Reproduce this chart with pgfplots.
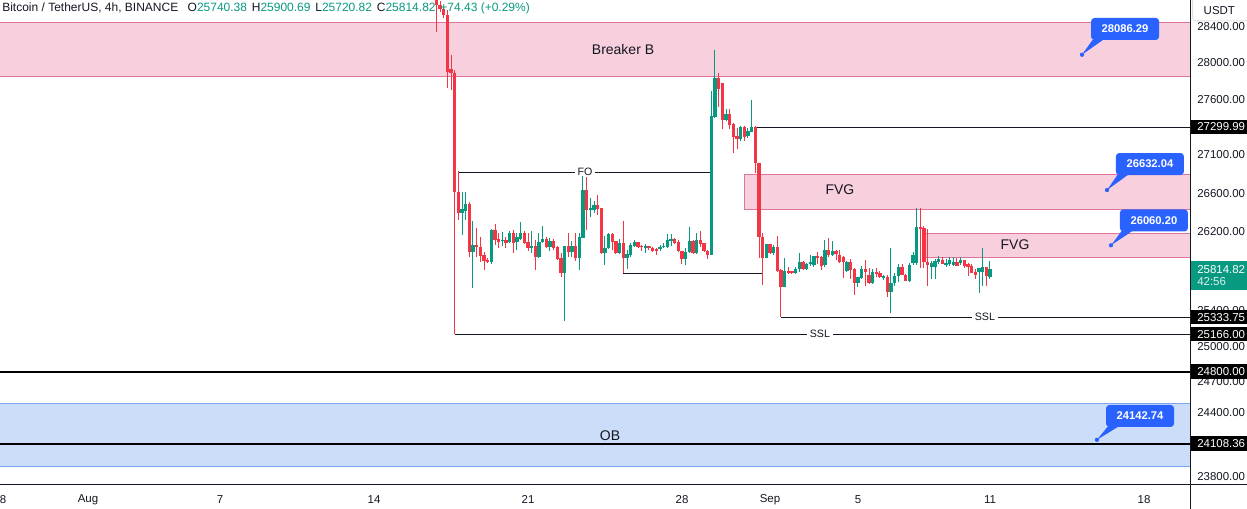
\documentclass[border=0pt]{standalone}
\usepackage{fontspec}
\setmainfont{Liberation Sans}
\usepackage{xfp}
\usepackage{pgfplots}
\pgfplotsset{compat=1.18}
\usepackage{pgfplotstable}
\definecolor{cup}{HTML}{089981}
\definecolor{cdn}{HTML}{F23645}
\definecolor{pinkf}{HTML}{F8CFDD}
\definecolor{pinkd}{HTML}{E0739F}
\definecolor{bluef}{HTML}{CCDDFA}
\definecolor{blued}{HTML}{7BA7F0}
\definecolor{callc}{HTML}{2962FF}
\definecolor{txt}{HTML}{131722}
\newcommand{\tfont}{\fontsize{8.6pt}{10pt}\selectfont}
\newcommand{\lp}[1]{\fpeval{ln(#1)}}

% n = 4h candle index from Aug 1 00:00 ; x = n/6 days ; prices in USDT
\pgfplotstableread{
n o h l c
102 26393 26612 26166 26435
103 26414 26612 26321 26487
105 25993 26310 25628 26064
110 25890 26228 25870 26217
113 26105 26197 26053 26115
115 26095 26207 26084 26187
117 26095 26187 26013 26146
118 26125 26300 26115 26187
121 26033 26207 25982 26053
123 25941 26187 25931 26095
124 26095 26259 26084 26125
126 26044 26136 26003 26105
130 25779 26053 25297 26053
132 25993 26105 25941 26053
134 25931 26187 25809 26146
135 26136 26823 26136 26633
137 26425 26549 26352 26445
138 26425 26518 26393 26476
141 25982 26156 25860 26033
142 26033 26187 26023 26176
145 25982 26125 25972 26084
147 25931 26013 25819 25972
148 25962 26084 25941 26064
149 26054 26115 26044 26094
152 26033 26074 25982 26053
156 26023 26064 26003 26044
157 26044 26084 26033 26053
158 26044 26176 26033 26115
159 26105 26176 26053 26125
163 25921 26033 25860 25993
164 25993 26248 25982 26105
166 25982 26187 25972 26115
170 25962 27691 25962 27419
171 27409 28140 27398 27832
174 27376 27495 27365 27441
178 27173 27311 27150 27300
180 27205 27289 27183 27258
181 27248 27593 27248 27300
185 25931 26074 25931 26074
187 25982 26064 25962 26044
190 25638 25931 25638 25799
193 25779 25839 25769 25819
194 25819 25982 25789 25890
196 25819 25880 25809 25870
197 25870 25962 25850 25890
198 25860 25952 25839 25952
201 25860 26115 25839 26013
203 25962 26105 25952 26003
207 25799 25901 25789 25890
210 25678 25739 25638 25739
211 25728 25850 25718 25819
214 25678 25819 25668 25789
217 25728 25759 25708 25749
219 25588 26033 25377 25678
220 25678 25779 25648 25749
221 25749 25870 25688 25839
224 25698 25880 25688 25860
225 25880 25993 25860 25962
226 25880 26445 25860 26248
230 25839 25901 25718 25880
231 25839 25921 25718 25901
232 25890 25952 25870 25921
234 25860 25921 25839 25880
235 25870 25941 25850 25911
236 25860 25941 25850 25890
238 25880 25941 25860 25911
243 25789 25829 25578 25829
244 25789 26033 25648 25839
246 25740.38 25900.69 25720.82 25814.82
}\up

\pgfplotstableread{
n o h l c
95 28720 28760 28341 28640
96 28640 28690 28560 28600
97 28600 28620 28490 28530
98 28530 28586 27720 27897
99 27930 28085 27700 27886
100 27886 27919 25166 26612
101 26612 26834 26321 26393
104 26487 26507 25941 25993
106 26064 26238 25941 26044
107 26044 26146 25890 25952
108 25962 25993 25809 25901
109 25911 25930 25880 25890
111 26217 26279 26064 26115
112 26125 26187 26033 26095
114 26115 26146 26033 26084
116 26187 26217 25982 26084
119 26187 26207 26074 26084
120 26095 26187 26003 26033
122 26053 26115 25809 25941
125 26125 26146 26033 26044
127 26105 26125 26013 26033
128 26044 26053 25911 25921
129 25931 25982 25739 25779
131 26053 26187 25941 25993
133 26053 26187 25901 25931
136 26633 26770 26217 26425
139 26476 26580 26373 26435
140 26445 26450 25972 25982
143 26176 26187 26013 26095
144 26105 26105 25972 25982
146 26084 26310 25779 25931
150 26094 26095 26033 26044
151 26053 26064 26003 26044
153 26053 26053 26013 26033
154 26033 26044 25993 26003
155 26023 26033 25962 26003
160 26125 26136 26074 26084
161 26095 26115 25993 26003
162 26003 26003 25870 25921
165 26105 26115 25972 25982
167 26115 26207 26044 26074
168 26084 26084 25993 26003
169 26003 26013 25921 25962
172 27832 27886 27517 27713
173 27778 27778 27279 27376
175 27441 27495 27279 27322
176 27333 27343 27025 27194
177 27205 27289 27066 27173
179 27300 27311 27150 27194
182 27300 27311 26813 26919
183 26919 26919 25931 26146
184 26146 26187 25658 25931
186 26074 26074 25972 25982
188 26044 26156 25789 25799
189 25809 25819 25334 25638
191 25799 25839 25769 25779
192 25799 25799 25769 25779
195 25890 25901 25809 25819
199 25952 25993 25870 25931
200 25941 25952 25809 25850
202 26013 26136 25941 25962
204 26003 26013 25911 25972
205 25962 26013 25880 25890
206 25945 25952 25728 25895
208 25890 25921 25718 25809
209 25819 25829 25558 25678
212 25819 25911 25648 25789
213 25759 25829 25668 25678
215 25789 25829 25739 25769
216 25779 25799 25728 25739
218 25739 25759 25538 25588
222 25839 25870 25759 25759
223 25759 25769 25698 25698
227 26248 26445 25829 26228
228 26238 26259 25829 25890
229 25890 26228 25648 25860
233 25911 25941 25870 25870
237 25890 25931 25850 25850
239 25911 25911 25829 25850
240 25870 25880 25749 25839
241 25850 25870 25779 25779
242 25789 25819 25718 25759
245 25839 25839 25648 25749
}\dn

\begin{document}
\begin{tikzpicture}[x=1pt,y=1pt]
% price scale is logarithmic: y = ln(price)
\begin{axis}[
  at={(0,0)}, anchor=south west,
  scale only axis, width=892.5pt, height=363.75pt,
  xmin=-4, xmax=50.0909,
  ymin=10.0739896, ymax=10.2645474,
  axis line style={draw=none},
  tick style={draw=none},
  xtick={-4,0,6,13,20,27,31,35,41,48},
  xticklabels={28,Aug,7,14,21,28,Sep,5,11,18},
  ytick={10.0774409,10.1023385,10.1145587,10.1282298,10.1425044,10.1581297,10.1735148,10.1886665,10.2036292,10.2255711,10.2399598,10.2541444},
  yticklabels={23800.00,24400.00,24700.00,25000.00,25400.00,25800.00,26200.00,26600.00,27100.00,27600.00,28000.00,28400.00},
  yticklabel pos=right,
  ticklabel style={font=\tfont, text=txt},
  yticklabel style={anchor=west, inner sep=0pt, xshift=5.25pt},
  xticklabel style={anchor=center, inner sep=0pt, yshift=-10.8pt},
  scaled y ticks=false,
]
% zones
\addplot[fill=pinkf, draw=pinkd, line width=0.75pt] table[row sep=\\, y expr=ln(\thisrow{p})] {x p\\ -5 27852\\ 52 27852\\ 52 28450\\ -5 28450\\ -5 27852\\};
\addplot[fill=pinkf, draw=pinkd, line width=0.75pt] table[row sep=\\, y expr=ln(\thisrow{p})] {x p\\ 29.833 26435\\ 52 26435\\ 52 26801\\ 29.833 26801\\ 29.833 26435\\};
\addplot[fill=pinkf, draw=pinkd, line width=0.75pt] table[row sep=\\, y expr=ln(\thisrow{p})] {x p\\ 38 25941\\ 52 25941\\ 52 26187\\ 38 26187\\ 38 25941\\};
\addplot[fill=bluef, draw=blued, line width=0.75pt] table[row sep=\\, y expr=ln(\thisrow{p})] {x p\\ -5 23896\\ 52 23896\\ 52 24495\\ -5 24495\\ -5 23896\\};
% levels
\addplot[txt, line width=0.75pt] table[row sep=\\, y expr=ln(\thisrow{p})] {x p\\ 16.833 26822\\ 28.333 26822\\};
\addplot[txt, line width=0.75pt] table[row sep=\\, y expr=ln(\thisrow{p})] {x p\\ 24.333 25778\\ 30.667 25778\\};
\addplot[txt, line width=0.75pt] table[row sep=\\, y expr=ln(\thisrow{p})] {x p\\ 30.333 27299.99\\ 52 27299.99\\};
\addplot[txt, line width=0.75pt] table[row sep=\\, y expr=ln(\thisrow{p})] {x p\\ 31.5 25333.75\\ 52 25333.75\\};
\addplot[txt, line width=0.75pt] table[row sep=\\, y expr=ln(\thisrow{p})] {x p\\ 16.667 25166\\ 52 25166\\};
\addplot[black, line width=1.5pt] table[row sep=\\, y expr=ln(\thisrow{p})] {x p\\ -5 24800\\ 52 24800\\};
\addplot[black, line width=1.5pt] table[row sep=\\, y expr=ln(\thisrow{p})] {x p\\ -5 24108.36\\ 52 24108.36\\};
% candles: wicks
\addplot[draw=none, mark=none, error bars/.cd, y dir=minus, y explicit, error mark=none,
  error bar style={draw=cup, line width=0.75pt}]
  table[x expr=\thisrow{n}/6, y expr=ln(\thisrow{h}), y error minus expr={ln(\thisrow{h})-ln(\thisrow{l})}] {\up};
\addplot[draw=none, mark=none, error bars/.cd, y dir=minus, y explicit, error mark=none,
  error bar style={draw=cdn, line width=0.75pt}]
  table[x expr=\thisrow{n}/6, y expr=ln(\thisrow{h}), y error minus expr={ln(\thisrow{h})-ln(\thisrow{l})}] {\dn};
% candles: bodies
\addplot[draw=none, mark=none, error bars/.cd, y dir=minus, y explicit, error mark=none,
  error bar style={draw=cup, line width=2.3pt}]
  table[x expr=\thisrow{n}/6, y expr=ln(\thisrow{c}), y error minus expr={max(ln(\thisrow{c})-ln(\thisrow{o}),0.0003)}] {\up};
\addplot[draw=none, mark=none, error bars/.cd, y dir=minus, y explicit, error mark=none,
  error bar style={draw=cdn, line width=2.3pt}]
  table[x expr=\thisrow{n}/6, y expr=ln(\thisrow{o}), y error minus expr={max(ln(\thisrow{o})-ln(\thisrow{c}),0.0003)}] {\dn};
% anchors for texts
\coordinate (BB) at (axis cs:24.32,\lp{28149});
\coordinate (F1) at (axis cs:34.18,\lp{26640});
\coordinate (F2) at (axis cs:42.14,\lp{26064});
\coordinate (OB) at (axis cs:23.73,\lp{24179});
\coordinate (FO) at (axis cs:22.59,\lp{26822});
\coordinate (S1) at (axis cs:40.77,\lp{25333.75});
\coordinate (S2) at (axis cs:33.27,\lp{25166});
\coordinate (C1) at (axis cs:47.14,\lp{28372});
\coordinate (C2) at (axis cs:48.27,\lp{26906});
\coordinate (C3) at (axis cs:48.45,\lp{26316});
\coordinate (C4) at (axis cs:47.82,\lp{24370});
\coordinate (D1) at (axis cs:45.18,\lp{28086.29});
\coordinate (D2) at (axis cs:46.32,\lp{26632.04});
\coordinate (D3) at (axis cs:46.5,\lp{26060.2});
\coordinate (D4) at (axis cs:45.86,\lp{24142.74});
\coordinate (P1) at (axis cs:50.0909,\lp{27299.99});
\coordinate (P2) at (axis cs:50.0909,\lp{25814.82});
\coordinate (P3) at (axis cs:50.0909,\lp{25333.75});
\coordinate (P4) at (axis cs:50.0909,\lp{25166});
\coordinate (P5) at (axis cs:50.0909,\lp{24800});
\coordinate (P6) at (axis cs:50.0909,\lp{24108.36});
\end{axis}
% ---------- annotation texts
\begin{scope}[every node/.style={font=\fontsize{10.5pt}{12pt}\selectfont, text=txt}]
\node at (BB) {Breaker B};
\node at (F1) {FVG};
\node at (F2) {FVG};
\node at (OB) {OB};
\end{scope}
\begin{scope}[every node/.style={font=\fontsize{8pt}{9pt}\selectfont, text=txt, fill=white, inner xsep=2pt, inner ysep=0.5pt}]
\node at (FO) {FO};
\node at (S1) {SSL};
\node at (S2) {SSL};
\end{scope}
% callouts
\begin{scope}[every node/.style={fill=callc, text=white, rounded corners=2.5pt, minimum width=51pt, minimum height=16.5pt, inner sep=0pt, font=\bfseries\fontsize{8.4pt}{10pt}\selectfont}]
\node (c1) at (C1) {28086.29};
\node (c2) at (C2) {26632.04};
\node (c3) at (C3) {26060.20};
\node (c4) at (C4) {24142.74};
\end{scope}
\foreach \c/\d in {c1/D1,c2/D2,c3/D3,c4/D4}{
  \fill[callc] (\d) -- ([xshift=1.5pt,yshift=0.5pt]\c.south west) -- ([xshift=9.5pt,yshift=0.5pt]\c.south west) -- cycle;
  \fill[callc] (\d) circle (1.6pt);
}
% price labels on the scale
\foreach \p/\t in {P1/27299.99,P3/25333.75,P4/25166.00,P5/24800.00,P6/24108.36}{
  \fill[black] ([yshift=-5.4pt]\p) rectangle ([xshift=43pt,yshift=5.4pt]\p);
  \node[anchor=west, text=white, font=\tfont, inner sep=0pt] at ([xshift=5.25pt]\p) {\t};
}
\fill[cup] ([yshift=6.4pt]P2) rectangle ([xshift=43pt,yshift=-15.8pt]P2);
\node[anchor=west, text=white, font=\tfont, inner sep=0pt] at ([xshift=5.25pt]P2) {25814.82};
\node[anchor=west, text=white!85!cup, font=\tfont, inner sep=0pt] at ([xshift=5.25pt,yshift=-9.4pt]P2) {42:56};
% USDT box
\draw[draw=black!12, fill=white, rounded corners=2.5pt, line width=0.75pt] (894.5pt,348pt) rectangle (940pt,370pt);
\node[font=\tfont, text=txt] at (914.5pt,356.2pt) {USDT};
% frame lines
\draw[txt, line width=0.75pt] (0,0) -- (935.25pt,0);
\draw[txt, line width=0.75pt] (892.5pt,-18pt) -- (892.5pt,363.75pt);
% header
\node[anchor=west, inner sep=0pt, font=\fontsize{9pt}{10pt}\selectfont, text=txt] at (1.5pt,357.4pt)
 {Bitcoin / TetherUS, 4h, BINANCE\hspace{7pt}O\textcolor{cup}{25740.38}\hspace{3.6pt}H\textcolor{cup}{25900.69}\hspace{3.6pt}L\textcolor{cup}{25720.82}\hspace{3.6pt}C\textcolor{cup}{25814.82}\hspace{3.6pt}\textcolor{cup}{+74.43 (+0.29\%)}};
\pgfresetboundingbox
\path[use as bounding box] (0,-18pt) rectangle (935.25pt,363.75pt);
\end{tikzpicture}
\end{document}
